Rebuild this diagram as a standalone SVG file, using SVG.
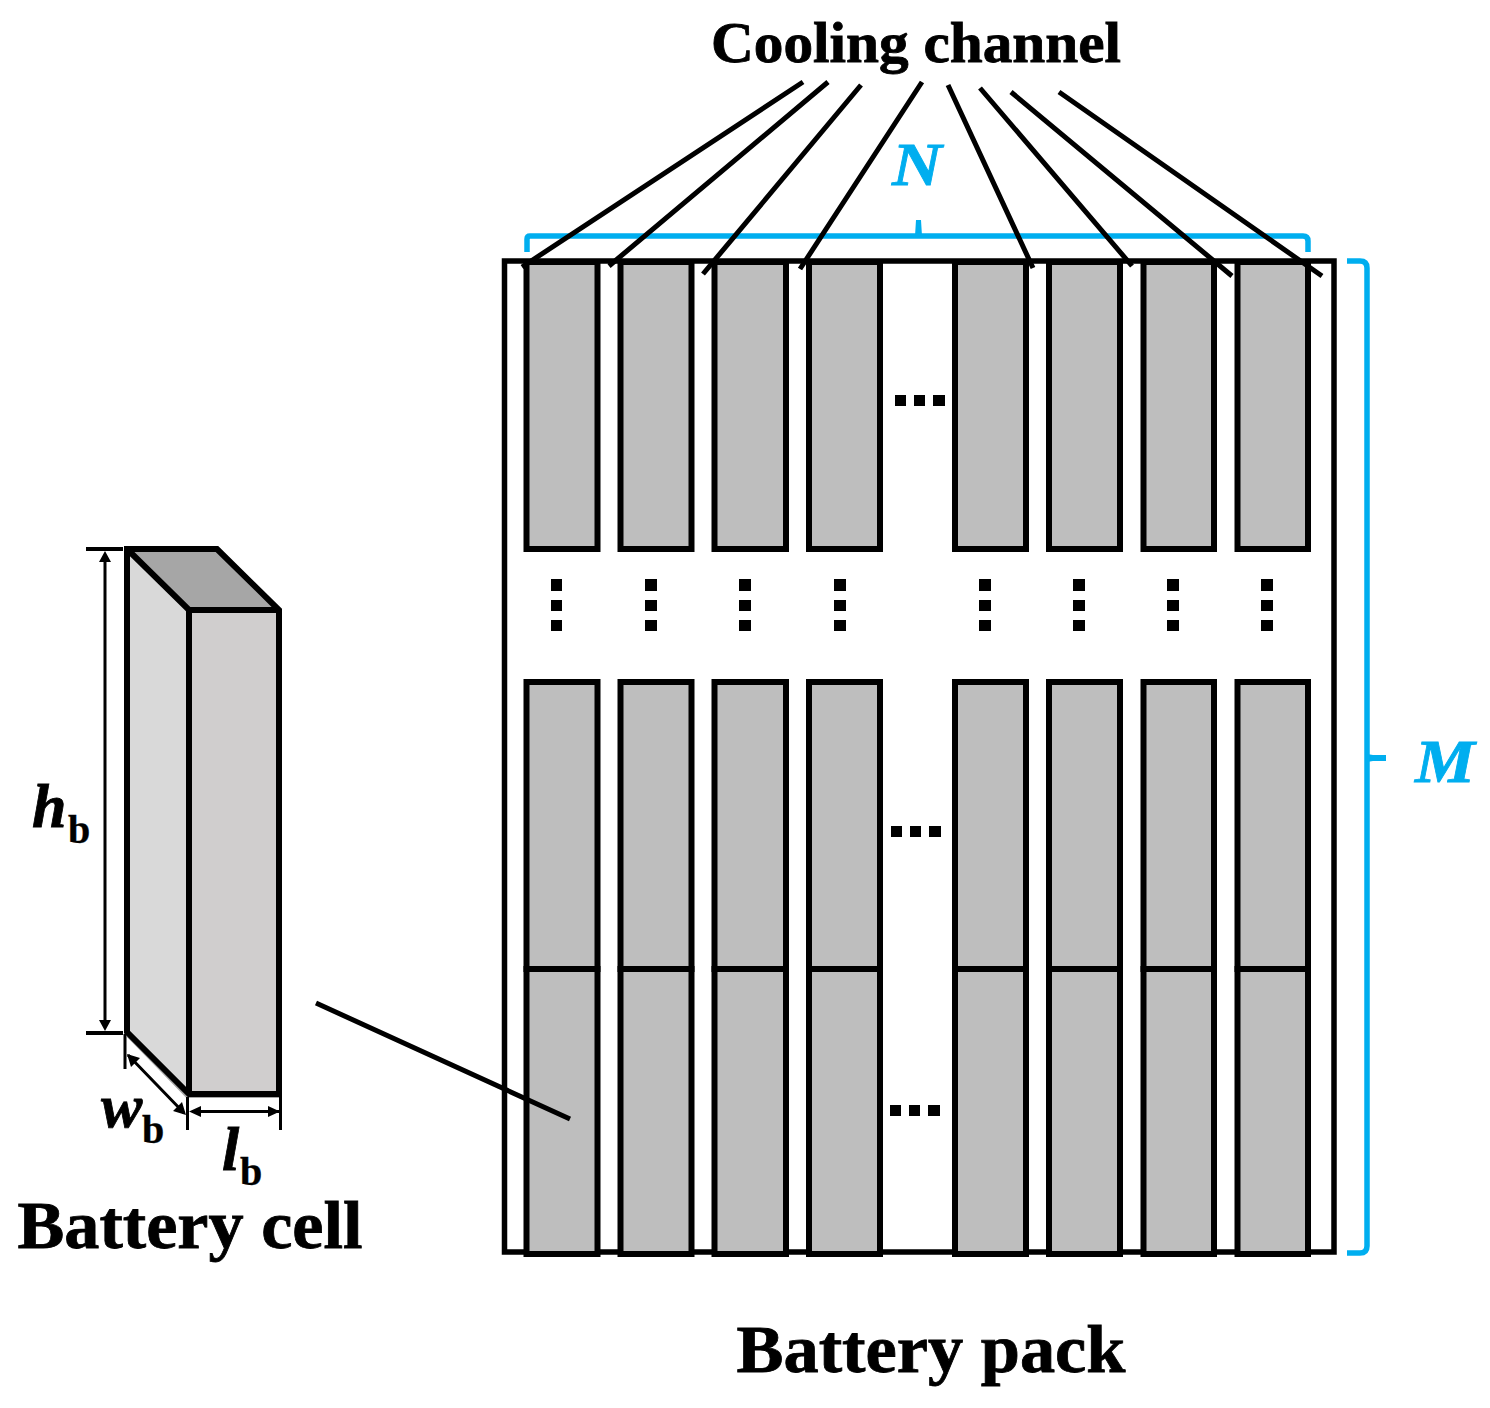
<svg xmlns="http://www.w3.org/2000/svg" width="1490" height="1408" viewBox="0 0 1490 1408">
<style>
.c{fill:#bebebe;stroke:#000;stroke-width:6}
.k{fill:none;stroke:#000;stroke-width:5}
.t{fill:none;stroke:#000;stroke-width:3}
.a{fill:#000}
.bl{fill:none;stroke:#00aeef;stroke-width:5.5}
text{font-family:"Liberation Serif","Times New Roman",serif;font-weight:bold;fill:#000;stroke:#000;stroke-width:.8}
.i{font-style:italic}
.s{stroke-width:.4}
text.n{fill:#00aeef;stroke:#00aeef;font-style:italic}
.d{fill:#000}
</style>
<rect width="1490" height="1408" fill="#fff"/>
<g id="pack">
<rect x="504.5" y="261" width="829.5" height="991" fill="#fff" stroke="#000" stroke-width="5.5"/>
</g>
<g id="row-top">
<rect class="c" x="526.5" y="262" width="71" height="287"/>
<rect class="c" x="620.5" y="262" width="71" height="287"/>
<rect class="c" x="714.5" y="262" width="71.5" height="287"/>
<rect class="c" x="809" y="262" width="71" height="287"/>
<rect class="c" x="955" y="262" width="71" height="287"/>
<rect class="c" x="1049" y="262" width="71" height="287"/>
<rect class="c" x="1143.5" y="262" width="70.5" height="287"/>
<rect class="c" x="1237.5" y="262" width="70.5" height="287"/>
</g>
<g id="row-middle">
<rect class="c" x="526.5" y="682" width="71" height="287"/>
<rect class="c" x="620.5" y="682" width="71" height="287"/>
<rect class="c" x="714.5" y="682" width="71.5" height="287"/>
<rect class="c" x="809" y="682" width="71" height="287"/>
<rect class="c" x="955" y="682" width="71" height="287"/>
<rect class="c" x="1049" y="682" width="71" height="287"/>
<rect class="c" x="1143.5" y="682" width="70.5" height="287"/>
<rect class="c" x="1237.5" y="682" width="70.5" height="287"/>
</g>
<g id="row-bottom">
<rect class="c" x="526.5" y="969" width="71" height="285"/>
<rect class="c" x="620.5" y="969" width="71" height="285"/>
<rect class="c" x="714.5" y="969" width="71.5" height="285"/>
<rect class="c" x="809" y="969" width="71" height="285"/>
<rect class="c" x="955" y="969" width="71" height="285"/>
<rect class="c" x="1049" y="969" width="71" height="285"/>
<rect class="c" x="1143.5" y="969" width="70.5" height="285"/>
<rect class="c" x="1237.5" y="969" width="70.5" height="285"/>
</g>
<g id="dots">
<path class="d" d="M895 395h11v11h-11zM914 395h11v11h-11zM933 395h12v11h-12zM891 826h11v11h-11zM910 826h11v11h-11zM929 826h12v11h-12zM890 1105h11v11h-11zM909 1105h11v11h-11zM928 1105h12v11h-12z"/>
<path class="d" d="M551 579h11v12h-11zM551 600h11v11h-11zM551 620h11v11h-11zM645 579h12v12h-12zM645 600h12v11h-12zM645 620h12v11h-12zM739 579h12v12h-12zM739 600h12v11h-12zM739 620h12v11h-12zM834 579h12v12h-12zM834 600h12v11h-12zM834 620h12v11h-12zM979 579h12v12h-12zM979 600h12v11h-12zM979 620h12v11h-12zM1073 579h12v12h-12zM1073 600h12v11h-12zM1073 620h12v11h-12zM1167 579h12v12h-12zM1167 600h12v11h-12zM1167 620h12v11h-12zM1261 579h12v12h-12zM1261 600h12v11h-12zM1261 620h12v11h-12z"/>
</g>
<g id="battery-cell">
<path d="M127 549H217L279 610H189Z" fill="#a6a6a6"/>
<path d="M127 549L189 610V1092L127 1032Z" fill="#d9d9d9"/>
<rect x="189" y="610" width="90" height="484" fill="#d0cece"/>
<path d="M128 1036L187 1096.500H280" fill="none" stroke="#a6a6a6" stroke-width="3"/>
<path d="M127 549H217L279 610V1094H189L127 1032Z M127 549L189 610H279 M189 610V1094" fill="none" stroke="#000" stroke-width="6"/>
</g>
<g id="connectors">
<path class="bl" d="M527 252V239Q527 236 530 236H1303Q1308 236 1308 241V252"/>
<path d="M915 236L916 220H921L922 236Z" fill="#00aeef"/>
<path class="bl" d="M1347 261H1360Q1367 261 1367 268V1246Q1367 1253 1360 1253H1347"/>
<path d="M1367 754L1373 755H1386V761H1373L1367 762Z" fill="#00aeef"/>
<path class="k" d="M803 82L522 267M828 82L609 266M861 85L703 274M922 82L800 269M948 85L1033 268M980 88L1132 266M1011 92L1232 276M1059 92L1322 276M316 1003L570 1119"/>
<path d="M86 549H123M86 1033H123" fill="none" stroke="#000" stroke-width="4"/>
<path class="t" d="M105 556V1024M125 1034V1069M187.500 1097V1130M280.500 1097V1130M128 1055L184 1113M192 1111.500H279"/>
<path class="a" d="M105 551L111 562H99ZM105 1031L111 1020H99ZM127 1054L140 1058L131 1067ZM186 1115L173 1111L182 1102ZM189 1111.500L201 1106V1117ZM280 1111.500L268 1106V1117Z"/>
</g>
<g id="labels">
<text x="916" y="62" font-size="57" text-anchor="middle" textLength="410" lengthAdjust="spacingAndGlyphs">Cooling channel</text>
<text x="190" y="1248" font-size="68" text-anchor="middle" textLength="345" lengthAdjust="spacingAndGlyphs">Battery cell</text>
<text x="931" y="1372" font-size="68" text-anchor="middle" textLength="389" lengthAdjust="spacingAndGlyphs">Battery pack</text>
<text x="917" y="185" font-size="62" text-anchor="middle" class="n" textLength="50" lengthAdjust="spacingAndGlyphs">N</text>
<text x="1445" y="782" font-size="62" text-anchor="middle" class="n" textLength="60" lengthAdjust="spacingAndGlyphs">M</text>
<text x="32" y="827" font-size="62" class="i">h</text>
<text x="68" y="843" font-size="40" class="s">b</text>
<text x="101" y="1127" font-size="62" class="i">w</text>
<text x="142" y="1143" font-size="40" class="s">b</text>
<text x="222" y="1170" font-size="62" class="i">l</text>
<text x="240" y="1185" font-size="40" class="s">b</text>
</g>
</svg>
